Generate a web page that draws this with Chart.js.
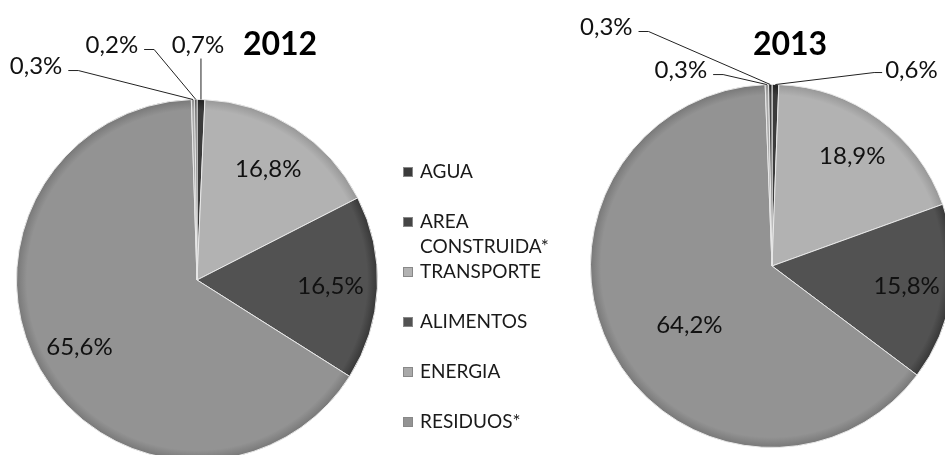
<!DOCTYPE html>
<html>
<head>
<meta charset="utf-8">
<script src="https://cdn.jsdelivr.net/npm/chart.js@4.4.1/dist/chart.umd.min.js"></script>
<style>
  html, body { margin: 0; padding: 0; background: #fff; overflow: hidden; width: 945px; height: 455px; }
  #pizza2012 { position: absolute; left: 0; top: 0; }
  #pizza2013 { position: absolute; left: 560px; top: 0; }
</style>
</head>
<body>
<canvas id="pizza2012" width="560" height="470"></canvas>
<canvas id="pizza2013" width="400" height="470"></canvas>
<script>
// categorias na ordem da legenda
const categorias = ['AGUA', 'AREA CONSTRUIDA*', 'TRANSPORTE', 'ALIMENTOS', 'ENERGIA', 'RESIDUOS*'];
const valores2012 = [0.7, 0.2, 16.8, 16.5, 0.3, 65.6];
const valores2013 = [0.6, 0.3, 18.9, 15.8, 0.3, 64.2];
// ordem das fatias no sentido horario a partir das 12h
const ordemFatias = [0, 2, 3, 5, 4, 1];

const cores = ['#3b3b3b', '#454545', '#b2b2b2', '#525252', '#a9a9a9', '#939393'];

// posicao dos rotulos (fora = com linha de chamada)
const rotulos2012 = {
  'AGUA': { fora: true, dx: -3, dy: -54 },
  'ENERGIA': { fora: true, dx: -157, dy: -33 },
  'AREA CONSTRUIDA*': { fora: true, dx: -84, dy: -54 },
  'TRANSPORTE': { r: 0.73 },
  'ALIMENTOS': { r: 0.74 },
  'RESIDUOS*': { r: 0.75 }
};
const rotulos2013 = {
  'AGUA': { fora: true, dx: 136, dy: -14 },
  'ENERGIA': { fora: true, dx: -86, dy: -14 },
  'AREA CONSTRUIDA*': { fora: true, dx: -164, dy: -57 },
  'TRANSPORTE': { r: 0.75 },
  'ALIMENTOS': { r: 0.75 },
  'RESIDUOS*': { r: 0.56, da: -8 }
};

function formata(v) {
  return v.toFixed(1).replace('.', ',') + '%';
}

function escurece(hex, d) {
  const v = Math.max(0, parseInt(hex.slice(1, 3), 16) - d);
  return 'rgb(' + v + ',' + v + ',' + v + ')';
}

// borda da pizza levemente escurecida, como no original
function corFatia(context) {
  const base = cores[ordemFatias[context.dataIndex]];
  const area = context.chart.chartArea;
  if (!area) return base;
  const cx = (area.left + area.right) / 2, cy = (area.top + area.bottom) / 2;
  const r = Math.min(area.right - area.left, area.bottom - area.top) / 2;
  const g = context.chart.ctx.createRadialGradient(cx, cy, 0, cx, cy, r);
  g.addColorStop(0, base);
  g.addColorStop(0.94, base);
  g.addColorStop(1, escurece(base, 28));
  return g;
}

const rotulosPizza = {
  id: 'rotulosPizza',
  afterDatasetsDraw(chart, args, opts) {
    const ctx = chart.ctx;
    const meta = chart.getDatasetMeta(0);
    const dados = chart.data.datasets[0].data;
    ctx.save();
    ctx.font = '24px Lato';
    ctx.fillStyle = '#111';
    ctx.strokeStyle = '#222';
    ctx.lineWidth = 1;
    ctx.textBaseline = 'middle';
    ctx.textAlign = 'center';
    meta.data.forEach((arco, i) => {
      const p = arco.getProps(['x', 'y', 'startAngle', 'endAngle', 'outerRadius'], true);
      const nome = chart.data.labels[i];
      const st = opts.posicoes[nome] || {};
      const texto = formata(dados[i]);
      const meio = (p.startAngle + p.endAngle) / 2;
      if (st.fora) {
        const ax = p.x + Math.cos(meio) * p.outerRadius;
        const ay = p.y + Math.sin(meio) * p.outerRadius;
        const tx = ax + st.dx, ty = ay + st.dy;
        const w = ctx.measureText(texto).width;
        ctx.beginPath();
        ctx.moveTo(ax, ay);
        if (Math.abs(st.dx) < 15) {
          ctx.lineTo(ax, ty + 13);
        } else if (st.dx < 0) {
          const x1 = tx + w / 2 + 6;
          ctx.lineTo(x1 + 10, ty + 4);
          ctx.lineTo(x1, ty + 4);
        } else {
          const x1 = tx - w / 2 - 3;
          ctx.lineTo(x1 - 8, ty + 2);
          ctx.lineTo(x1, ty + 2);
        }
        ctx.stroke();
        ctx.fillText(texto, tx, ty);
      } else {
        const f = st.r || 0.74;
        const a = meio + (st.da || 0) * Math.PI / 180;
        ctx.fillText(texto, p.x + Math.cos(a) * p.outerRadius * f, p.y + Math.sin(a) * p.outerRadius * f);
      }
    });
    ctx.font = 'bold 32px Lato';
    ctx.fillStyle = '#000';
    ctx.fillText(opts.titulo, opts.tituloX, opts.tituloY);
    ctx.restore();
  }
};

const legendaLateral = {
  id: 'legendaLateral',
  afterDraw(chart, args, opts) {
    if (!opts.mostrar) return;
    const ctx = chart.ctx;
    ctx.save();
    ctx.font = '19px Lato';
    ctx.textBaseline = 'middle';
    ctx.textAlign = 'left';
    categorias.forEach((nome, k) => {
      const y = opts.y + k * opts.passo;
      ctx.fillStyle = cores[k];
      ctx.fillRect(opts.x, y - 5, 10, 10);
      ctx.strokeStyle = '#888';
      ctx.strokeRect(opts.x + 0.5, y - 4.5, 9, 9);
      // quebra de linha simples
      const palavras = nome.split(' ');
      const linhas = [];
      let atual = '';
      palavras.forEach(pw => {
        const teste = atual ? atual + ' ' + pw : pw;
        if (atual && ctx.measureText(teste).width > opts.larguraMax) {
          linhas.push(atual);
          atual = pw;
        } else {
          atual = teste;
        }
      });
      linhas.push(atual);
      ctx.fillStyle = '#1a1a1a';
      linhas.forEach((l, j) => ctx.fillText(l, opts.x + 17, y + j * 25));
    });
    ctx.restore();
  }
};

function montaPizza(id, valores, posicoes, titulo, tituloX, padding, legenda) {
  return new Chart(document.getElementById(id), {
    type: 'pie',
    data: {
      labels: ordemFatias.map(k => categorias[k]),
      datasets: [{
        data: ordemFatias.map(k => valores[k]),
        backgroundColor: corFatia,
        borderColor: '#e8e8e8',
        borderWidth: 1
      }]
    },
    options: {
      responsive: false,
      animation: false,
      layout: { padding: padding },
      plugins: {
        legend: { display: false },
        tooltip: { enabled: false },
        rotulosPizza: { posicoes: posicoes, titulo: titulo, tituloX: tituloX, tituloY: 45 },
        legendaLateral: legenda
      }
    },
    plugins: [rotulosPizza, legendaLateral]
  });
}

montaPizza('pizza2012', valores2012, rotulos2012, '2012', 280,
  { left: 16, top: 99, right: 182, bottom: 9 },
  { mostrar: true, x: 403, y: 172, passo: 50, larguraMax: 135 });
montaPizza('pizza2013', valores2013, rotulos2013, '2013', 230,
  { left: 30, top: 84, right: 6, bottom: 22 },
  { mostrar: false });
</script>
</body>
</html>
